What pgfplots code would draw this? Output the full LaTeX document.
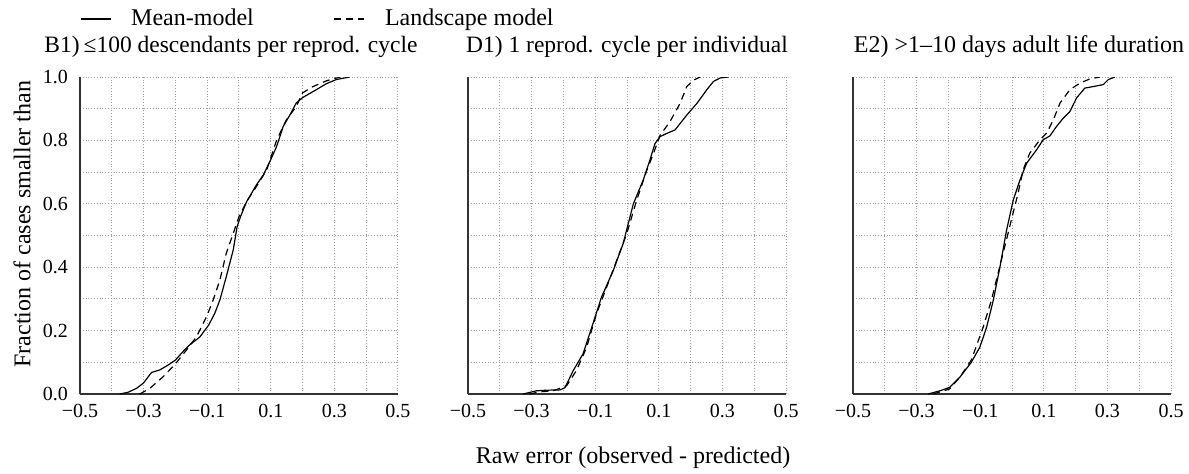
\documentclass[border=0pt]{standalone}
\usepackage{fontspec}
\setmainfont{Liberation Serif}
\usepackage{pgfplots}
\pgfplotsset{compat=1.18}
\pgfplotsset{
  panel/.style={
    scale only axis, width=159pt, height=158.5pt, anchor=south west,
    xmin=-0.5, xmax=0.5, ymin=0, ymax=1,
    axis x line*=bottom, axis y line*=left,
    axis line style={black!80, line width=0.9pt, -},
    xtick={-0.5,-0.4,-0.3,-0.2,-0.1,0,0.1,0.2,0.3,0.4,0.5},
    xticklabels={−0.5,,−0.3,,−0.1,,0.1,,0.3,,0.5},
    ytick={0,0.1,0.2,0.3,0.4,0.5,0.6,0.7,0.8,0.9,1},
    yticklabels={},
    major tick length=0pt,
    grid=major,
    major grid style={densely dotted, gray!75, line width=0.5pt},
    tick label style={font=\fontsize{10}{12}\selectfont},
    xticklabel style={yshift=-1.5pt},
    yticklabel style={xshift=-2.5pt},
    title style={font=\fontsize{11.75}{14}\selectfont, at={(axis description cs:0.5,1.038)}, anchor=base},
    label style={font=\fontsize{12}{14}\selectfont},
  },
  mm/.style={black, line width=0.6pt, solid},
  lm/.style={black, line width=0.6pt, dash pattern=on 3.5pt off 2.5pt},
}
\begin{document}
\begin{tikzpicture}
\path[use as bounding box] (0,0) rectangle (594.5pt,236.5pt);
% Panel B1
\begin{axis}[panel, at={(40pt,39.5pt)},
  yticklabels={0.0,,0.2,,0.4,,0.6,,0.8,,1.0},
  title={B1)\,≤100 descendants per reprod. cycle},
  title style={xshift=-4pt},
  ylabel={Fraction of cases smaller than},
  ylabel style={at={(axis description cs:-0.1824,0.536)}, anchor=center},
  legend columns=2,
  legend style={draw=none, fill=none, inner sep=0pt, outer sep=0pt,
    at={(axis description cs:0,1.183)}, anchor=west,
    font=\fontsize{12}{14}\selectfont,
    nodes={inner sep=0pt},
    /tikz/every odd column/.append style={column sep=10pt},
    /tikz/every even column/.append style={column sep=40pt}},
  legend image code/.code={\draw[#1] (0pt,0pt) -- (15pt,0pt);},
]
\addplot[mm] coordinates {(-0.375,0) (-0.35,0.005) (-0.322,0.018) (-0.3,0.035) (-0.275,0.068) (-0.249,0.076) (-0.225,0.09) (-0.2,0.107) (-0.175,0.135) (-0.155,0.155) (-0.123,0.18) (-0.095,0.218) (-0.076,0.255) (-0.06,0.297) (-0.04,0.37) (-0.018,0.455) (-0.006,0.528) (0.005,0.56) (0.024,0.607) (0.055,0.66) (0.076,0.69) (0.097,0.733) (0.118,0.78) (0.139,0.844) (0.16,0.88) (0.18,0.918) (0.2,0.935) (0.243,0.96) (0.275,0.979) (0.306,0.992) (0.348,1.0)};
\addlegendentry{Mean-model}
\addplot[lm] coordinates {(-0.312,0) (-0.28,0.018) (-0.238,0.055) (-0.2,0.095) (-0.165,0.139) (-0.134,0.18) (-0.102,0.244) (-0.081,0.297) (-0.06,0.36) (-0.04,0.444) (-0.018,0.507) (0,0.56) (0.024,0.607) (0.055,0.655) (0.087,0.707) (0.118,0.8) (0.149,0.865) (0.18,0.907) (0.2,0.95) (0.233,0.97) (0.275,0.988) (0.318,1.0)};
\addlegendentry{Landscape model}
\end{axis}
% Panel D1
\begin{axis}[panel, at={(234pt,39.5pt)},
  title={D1) 1 reprod. cycle per individual},
  xlabel={Raw error (observed - predicted)},
  xlabel style={at={(axis description cs:0.5189,-0.2019)}, anchor=center},
]
\addplot[mm] coordinates {(-0.327,0) (-0.285,0.01) (-0.253,0.012) (-0.211,0.013) (-0.195,0.02) (-0.169,0.074) (-0.138,0.127) (-0.111,0.21) (-0.08,0.306) (-0.043,0.39) (-0.012,0.475) (0.02,0.6) (0.051,0.675) (0.072,0.738) (0.088,0.79) (0.104,0.812) (0.125,0.822) (0.151,0.833) (0.188,0.88) (0.22,0.917) (0.251,0.96) (0.272,0.986) (0.293,0.997) (0.319,1.0)};
\addplot[lm] coordinates {(-0.306,0) (-0.274,0.007) (-0.232,0.01) (-0.19,0.026) (-0.159,0.074) (-0.127,0.147) (-0.096,0.253) (-0.064,0.337) (-0.033,0.42) (-0.001,0.505) (0.03,0.61) (0.062,0.705) (0.083,0.758) (0.104,0.816) (0.135,0.859) (0.167,0.917) (0.188,0.97) (0.209,0.99) (0.23,1.0)};
\end{axis}
% Panel E2
\begin{axis}[panel, at={(426.5pt,39.5pt)},
  title={E2) >1\textendash10 days adult life duration},
  title style={xshift=3.5pt, font=\fontsize{12}{14}\selectfont},
]
\addplot[mm] coordinates {(-0.264,0) (-0.227,0.01) (-0.196,0.021) (-0.164,0.053) (-0.128,0.1) (-0.101,0.148) (-0.08,0.21) (-0.059,0.295) (-0.038,0.4) (-0.017,0.517) (0.004,0.612) (0.025,0.675) (0.046,0.728) (0.077,0.77) (0.098,0.802) (0.119,0.814) (0.14,0.844) (0.161,0.87) (0.182,0.891) (0.203,0.934) (0.229,0.965) (0.256,0.97) (0.287,0.976) (0.303,0.992) (0.324,1.0)};
\addplot[lm] coordinates {(-0.248,0) (-0.196,0.016) (-0.164,0.053) (-0.128,0.107) (-0.091,0.21) (-0.065,0.295) (-0.044,0.38) (-0.023,0.464) (-0.002,0.549) (0.019,0.633) (0.035,0.707) (0.056,0.76) (0.088,0.802) (0.109,0.823) (0.13,0.865) (0.151,0.918) (0.182,0.96) (0.214,0.981) (0.245,0.994) (0.276,1.0)};
\end{axis}
\end{tikzpicture}
\end{document}
